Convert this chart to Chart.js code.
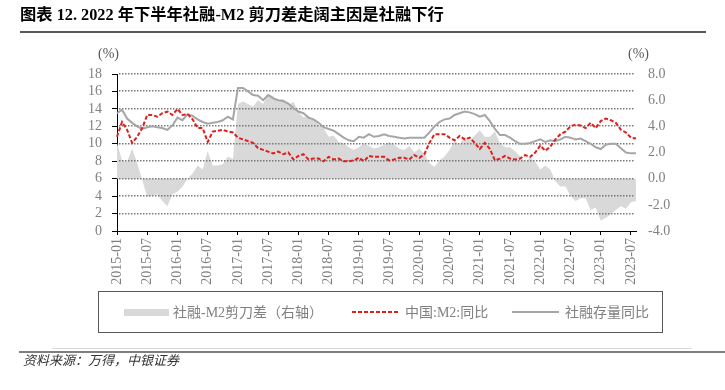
<!DOCTYPE html>
<html><head><meta charset="utf-8">
<script src="https://cdn.jsdelivr.net/npm/chart.js@4.4.1/dist/chart.umd.min.js"></script>
<style>
html,body{margin:0;padding:0;background:#fff;}
#wrap{position:relative;width:725px;height:390px;overflow:hidden;font-family:"Liberation Serif","Noto Sans CJK SC",serif;}
#cvbox{position:absolute;left:0;top:0;width:725px;height:390px;}
.abs{position:absolute;white-space:nowrap;}
#title{left:20px;top:5px;font-size:16.3px;font-weight:bold;color:#000;line-height:20px;}
#tline{left:20px;top:31px;width:686px;height:2px;background:#595959;}
.pct{top:45px;font-size:14px;color:#595959;line-height:18px;}
#legbox{left:98px;top:291px;width:565px;height:42px;border:1px solid #595959;box-sizing:border-box;}
.ltxt{top:303px;font-size:14px;line-height:19px;color:#808080;}
#lg1{left:124px;top:309px;width:45px;height:7px;background:#d9d9d9;}
#lg2{left:352px;top:311px;width:47px;height:2px;background:repeating-linear-gradient(to right,#e01e1e 0 4px,transparent 4px 6px);}
#lg3{left:512px;top:311px;width:47px;height:2px;background:#a6a6a6;}
#fl1{left:52px;top:348px;width:640px;height:1px;background:#d9d9d9;}
#fl2{left:19px;top:351px;width:706px;height:2px;background:#7f7f7f;}
#src{left:23px;top:353px;font-size:13px;line-height:16px;font-style:italic;color:#333;}
</style></head>
<body>
<div id="wrap">
<div id="cvbox"><canvas id="cv"></canvas></div>
<div class="abs" id="title">图表 12. 2022 年下半年社融-M2 剪刀差走阔主因是社融下行</div>
<div class="abs" id="tline"></div>
<div class="abs pct" style="left:98px;">(%)</div>
<div class="abs pct" style="left:628px;">(%)</div>
<div class="abs" id="legbox"></div>
<div class="abs" id="lg1"></div>
<div class="abs ltxt" style="left:173px;">社融-M2剪刀差（右轴）</div>
<div class="abs" id="lg2"></div>
<div class="abs ltxt" style="left:405px;">中国:M2:同比</div>
<div class="abs" id="lg3"></div>
<div class="abs ltxt" style="left:565px;">社融存量同比</div>
<div class="abs" id="fl1"></div>
<div class="abs" id="fl2"></div>
<div class="abs" id="src">资料来源：万得，中银证券</div>
</div>
<script>
const categories = [
'2015-01','2015-02','2015-03','2015-04','2015-05','2015-06','2015-07','2015-08','2015-09','2015-10','2015-11','2015-12',
'2016-01','2016-02','2016-03','2016-04','2016-05','2016-06','2016-07','2016-08','2016-09','2016-10','2016-11','2016-12',
'2017-01','2017-02','2017-03','2017-04','2017-05','2017-06','2017-07','2017-08','2017-09','2017-10','2017-11','2017-12',
'2018-01','2018-02','2018-03','2018-04','2018-05','2018-06','2018-07','2018-08','2018-09','2018-10','2018-11','2018-12',
'2019-01','2019-02','2019-03','2019-04','2019-05','2019-06','2019-07','2019-08','2019-09','2019-10','2019-11','2019-12',
'2020-01','2020-02','2020-03','2020-04','2020-05','2020-06','2020-07','2020-08','2020-09','2020-10','2020-11','2020-12',
'2021-01','2021-02','2021-03','2021-04','2021-05','2021-06','2021-07','2021-08','2021-09','2021-10','2021-11','2021-12',
'2022-01','2022-02','2022-03','2022-04','2022-05','2022-06','2022-07','2022-08','2022-09','2022-10','2022-11','2022-12',
'2023-01','2023-02','2023-03','2023-04','2023-05','2023-06','2023-07','2023-08'];

// 中国:M2:同比 (%)
const m2Yoy = [
10.8,12.5,11.6,10.1,10.8,11.8,13.3,13.3,13.1,13.5,13.7,13.3,
14.0,13.3,13.4,12.8,11.8,11.8,10.2,11.4,11.5,11.6,11.4,11.3,
10.7,10.5,10.3,10.1,9.5,9.3,9.1,8.9,9.1,8.8,9.0,8.2,
8.6,8.8,8.2,8.3,8.3,8.0,8.5,8.2,8.3,8.0,8.0,8.1,
8.4,8.0,8.6,8.5,8.5,8.5,8.1,8.2,8.4,8.4,8.2,8.7,
8.4,8.8,10.1,11.1,11.1,11.1,10.7,10.4,10.9,10.5,10.7,10.1,
9.4,10.1,9.4,8.1,8.3,8.6,8.3,8.2,8.3,8.7,8.5,9.0,
9.8,9.2,9.7,10.5,11.1,11.4,12.0,12.2,12.1,11.8,12.4,11.8,
12.6,12.9,12.7,12.4,11.6,11.3,10.7,10.6];

// 社融存量同比 (%)
const tsfYoy = [
13.5,13.9,12.9,12.4,12.0,11.7,11.9,12.0,11.9,11.8,11.6,12.1,
13.0,12.7,13.4,13.2,12.8,12.5,12.3,12.4,12.5,12.7,13.1,12.8,
16.4,16.4,16.0,15.6,15.5,15.0,15.6,15.2,15.0,14.9,14.6,14.1,
13.7,13.5,13.0,12.8,12.4,11.9,11.7,11.5,11.1,10.7,10.4,10.3,
10.8,10.7,11.1,10.8,10.9,11.1,10.9,10.8,10.7,10.6,10.7,10.7,
10.7,10.7,11.3,12.0,12.5,12.8,12.9,13.3,13.5,13.7,13.6,13.4,
13.1,13.3,12.6,11.7,11.0,11.0,10.7,10.3,10.0,10.0,10.1,10.3,
10.5,10.2,10.4,10.3,10.5,10.8,10.7,10.5,10.6,10.3,10.0,9.6,
9.4,9.9,10.0,10.0,9.5,9.0,8.9,8.9];

// 社融-M2剪刀差 (右轴, %)
const scissorsGap = [
2.7,1.4,1.3,2.3,1.2,-0.1,-1.4,-1.3,-1.2,-1.7,-2.1,-1.2,
-1.0,-0.6,0.0,0.4,1.0,0.7,2.1,1.0,1.0,1.1,1.7,1.5,
5.7,5.9,5.7,5.5,6.0,5.7,6.5,6.3,5.9,6.1,5.6,5.9,
5.1,4.7,4.8,4.5,4.1,3.9,3.2,3.3,2.8,2.7,2.4,2.2,
2.4,2.7,2.5,2.3,2.4,2.6,2.8,2.6,2.3,2.2,2.5,2.0,
2.3,1.9,1.2,0.9,1.4,1.7,2.2,2.9,2.6,3.2,2.9,3.3,
3.7,3.2,3.2,3.6,2.7,2.4,2.4,2.1,1.7,1.3,1.6,1.3,
0.7,1.0,0.7,-0.2,-0.6,-0.6,-1.3,-1.7,-1.5,-1.5,-2.4,-2.2,
-3.2,-3.0,-2.7,-2.4,-2.1,-2.3,-1.8,-1.7];

const leftTicks = {min:0, max:18, step:2};
const rightTicks = {min:-4, max:8, step:2};

const tickFont = {family:'"Liberation Serif", serif', size:14};
const tickColor = '#808080';

// dotted horizontal grid from the left axis, drawn over the shaded area but under the lines
const dottedGrid = {
  id:'dottedGrid',
  afterDatasetDraw(chart, args){
    if (args.index !== 0) return;
    const {ctx, chartArea} = chart;
    const ys = chart.scales.y;
    ctx.save();
    ctx.fillStyle = '#7a7a7a';
    ys.ticks.forEach(t=>{
      if (t.value <= leftTicks.min) return;
      const py = Math.round(ys.getPixelForValue(t.value));
      for (let x = chartArea.left + 2; x < chartArea.right - 1; x += 3) {
        ctx.fillRect(x, py - 1, 1.5, 1.5);
      }
    });
    ctx.restore();
  }
};

new Chart(document.getElementById('cv'), {
  type:'line',
  data:{
    labels:categories,
    datasets:[
      {label:'社融-M2剪刀差（右轴）', data:scissorsGap, yAxisID:'y1', fill:'origin',
       backgroundColor:'#d9d9d9', borderWidth:0, borderColor:'rgba(0,0,0,0)', pointRadius:0, tension:0, order:3},
      {label:'社融存量同比', data:tsfYoy, yAxisID:'y', fill:false,
       borderColor:'#a6a6a6', borderWidth:2, pointRadius:0, tension:0, order:2},
      {label:'中国:M2:同比', data:m2Yoy, yAxisID:'y', fill:false,
       borderColor:'#e01e1e', borderWidth:2, borderDash:[4,2], pointRadius:0, tension:0, order:1}
    ]
  },
  plugins:[dottedGrid],
  options:{
    responsive:true, maintainAspectRatio:false, animation:false, devicePixelRatio:1,
    layout:{padding:{top:74,left:0,right:0,bottom:0}},
    plugins:{legend:{display:false}, tooltip:{enabled:false}},
    scales:{
      x:{
        offset:false,
        grid:{drawOnChartArea:false, drawTicks:true, tickLength:4, color:'#000', tickColor:'#000'},
        border:{display:true, color:'#000', width:1},
        ticks:{autoSkip:false, minRotation:90, maxRotation:90, padding:3, color:tickColor, font:tickFont,
          callback:(v,i)=> (i%6===0 ? categories[i] : null)},
        afterFit:(s)=>{s.height = 159;}
      },
      y:{
        position:'left', min:leftTicks.min, max:leftTicks.max,
        grid:{drawOnChartArea:false, drawTicks:true, tickLength:5, color:'#000', tickColor:'#000'},
        border:{display:true, color:'#000', width:1},
        ticks:{stepSize:leftTicks.step, autoSkip:false, padding:10, color:tickColor, font:tickFont},
        afterFit:(s)=>{s.width = 117;}
      },
      y1:{
        position:'right', min:rightTicks.min, max:rightTicks.max,
        grid:{drawOnChartArea:false, drawTicks:false},
        border:{display:false},
        ticks:{stepSize:rightTicks.step, autoSkip:false, padding:12, color:tickColor, font:tickFont,
          callback:(v)=>Number(v).toFixed(1)},
        afterFit:(s)=>{s.width = 89;}
      }
    }
  }
});
</script>
</body></html>
